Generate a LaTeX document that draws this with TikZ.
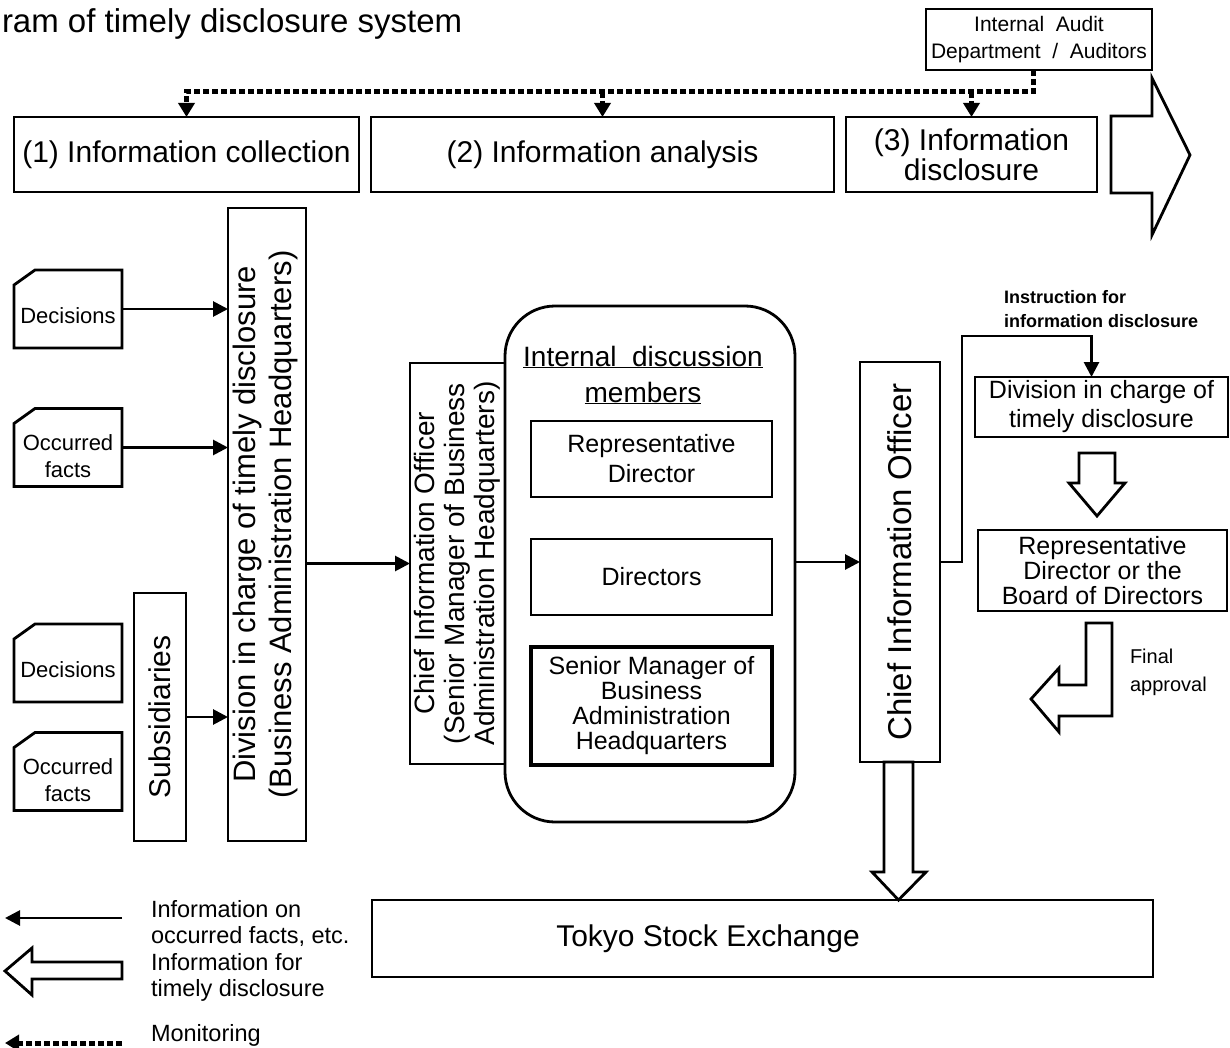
\documentclass[tikz,border=0pt]{standalone}
\usepackage{fontspec}
\setmainfont{Liberation Sans}
\usetikzlibrary{arrows.meta,calc}
\newcommand{\fsz}[2]{\fontsize{#1pt}{#2pt}\selectfont}

\begin{document}
\begin{tikzpicture}[x=1pt,y=-1pt,
  every node/.style={inner sep=0pt, outer sep=0pt},
  box/.style={draw, line width=2.8pt},
  card/.style={minimum width=108pt, minimum height=78pt},
  cardtxt/.style={font=\fsz{22}{27}, align=center},
  arr/.style={line width=2.8pt, -{Triangle[length=15pt,width=15pt]}},
  mon/.style={line width=5pt, dash pattern=on 6pt off 3pt},
  monarr/.style={mon, -{Triangle[length=14pt,width=16pt]}},
  hollow/.style={draw, line width=2.8pt, fill=white, line join=miter},
  legtxt/.style={font=\fsz{23.5}{26}, align=left, anchor=west}
]
\useasboundingbox[fill=white] (0,0) rectangle (1230,1048);

% title
\node[anchor=base west, font=\fsz{33}{36}] (title) at (2,33) {ram of timely disclosure system};

% audit box and phase headers
\node[box, minimum width=226pt, minimum height=61pt, align=center, font=\fsz{21}{27}] (audit) at (1039,39.5)
  {Internal~~Audit\\Department~~/~~Auditors};
\node[box, minimum width=345pt, minimum height=75pt, font=\fsz{30}{30}] (p1) at (186.5,154.5) {(1) Information collection};
\node[box, minimum width=463pt, minimum height=75pt, font=\fsz{30}{30}] (p2) at (602.5,154.5) {(2) Information analysis};
\node[box, minimum width=251pt, minimum height=75pt, font=\fsz{30}{30}, align=center] (p3) at (971.5,154.5) {(3) Information\\disclosure};

% process arrow
\draw[hollow] (1111,116) -- (1152,116) -- (1152,78) -- (1190,155) -- (1152,235) -- (1152,193) -- (1111,193) -- cycle;

% monitoring lines
\coordinate (rail) at (0,92);
\draw[monarr] ([xshift=-6pt]audit.south) |- (rail -| p1.north) -- (p1.north);
\draw[monarr] (rail -| p2.north) -- (p2.north);
\draw[monarr] (rail -| p3.north) -- (p3.north);

% source documents
\node[card] (dec1) at (68,309) {};
\node[card] (occ1) at (68,447.5) {};
\node[card] (dec2) at (68,663) {};
\node[card] (occ2) at (68,771.5) {};
\foreach \n in {dec1,occ1,dec2,occ2}
  \draw[line width=2.8pt, line join=miter] (\n.south west) -- (\n.south east) -- (\n.north east)
    -- ([xshift=21pt]\n.north west) -- ([yshift=-15pt]\n.north west) -- cycle;
\node[cardtxt] at ([yshift=-7pt]dec1.center) {Decisions};
\node[cardtxt] at ([yshift=-9pt]occ1.center) {Occurred\\facts};
\node[cardtxt] at ([yshift=-7pt]dec2.center) {Decisions};
\node[cardtxt] at ([yshift=-9pt]occ2.center) {Occurred\\facts};

% subsidiaries and division in charge
\node[box, minimum width=52pt, minimum height=248pt] (sub) at (160,717) {};
\node[rotate=90, font=\fsz{30}{30}] at (sub) {Subsidiaries};
\node[box, minimum width=78pt, minimum height=633pt] (div) at (267,524.5) {};
\node[rotate=90, align=center, font=\fsz{31}{36}] at ([xshift=-2pt]div.center) {Division in charge of timely disclosure\\(Business Administration Headquarters)};

\draw[arr] (dec1.east) -- (dec1.east -| div.west);
\draw[arr] (occ1.east) -- (occ1.east -| div.west);
\draw[arr] (sub.east) -- (sub.east -| div.west);

% chief information officer (left) and discussion members
\node[box, minimum width=95pt, minimum height=401pt] (ciol) at (457.5,563.5) {};
\node[rotate=90, align=center, font=\fsz{28}{30}] at (ciol) {Chief Information Officer\\(Senior Manager of Business\\Administration Headquarters)};
\node[box, rounded corners=50pt, minimum width=290pt, minimum height=516pt] (idm) at (650,564) {};
\node[align=center, font=\fsz{28}{36}] (idmhead) at (643,375) {\underline{Internal~~discussion}\\\underline{members}};
\node[box, minimum width=241pt, minimum height=76pt, align=center, font=\fsz{25}{30}] (rd) at (651.5,459) {Representative\\Director};
\node[box, minimum width=241pt, minimum height=76pt, font=\fsz{25}{30}] (dirs) at (651.5,577) {Directors};
\node[box, line width=3.4pt, minimum width=241pt, minimum height=118pt, align=center, font=\fsz{25}{25}] (sm) at (651.5,706) {Senior Manager of\\Business\\Administration\\Headquarters};

\draw[arr] (div.east |- ciol.west) -- (ciol.west);

% chief information officer (right)
\node[box, minimum width=80pt, minimum height=400pt] (cior) at (900,562) {};
\node[rotate=90, font=\fsz{33}{33}] at (cior) {Chief Information Officer};
\draw[arr] (idm.east |- cior.west) -- (cior.west);

% disclosure side
\node[box, minimum width=253pt, minimum height=60pt, align=center, font=\fsz{25}{29}] (divr) at (1101.5,407) {Division in charge of\\timely disclosure};
\node[box, minimum width=249pt, minimum height=81pt, align=center, font=\fsz{25}{25}] (board) at (1102.5,570.5) {Representative\\Director or the\\Board of Directors};
\coordinate (instr) at (1091.5,336);
\draw[arr] (cior.east) -- ++(22,0) |- (instr) -- (instr |- divr.north);
\node[anchor=west, align=left, font=\bfseries\fsz{18}{24}] (instrtxt) at (1004,309) {Instruction for\\information disclosure};

\draw[hollow] (1079,453) -- (1115,453) -- (1115,483) -- (1125,483) -- (1097,516) -- (1069,483) -- (1079,483) -- cycle;
\draw[hollow] (1086,623) -- (1112,623) -- (1112,716) -- (1059,716) -- (1059,732) -- (1031,699)
  -- (1059,668) -- (1059,685) -- (1086,685) -- cycle;
\node[anchor=west, align=left, font=\fsz{20}{28}] (finaltxt) at (1130,672) {Final\\approval};

% stock exchange
\node[box, minimum width=781pt, minimum height=77pt] (tse) at (762.5,938.5) {};
\node[font=\fsz{30}{30}] at (708,939) {Tokyo Stock Exchange};
\draw[hollow] (884,762) -- (884,872) -- (872,872) -- (898.5,900) -- (926,872) -- (913,872) -- (913,762) -- cycle;

% legend
\coordinate (l1a) at (122,918);
\coordinate (l1b) at (5,918);
\draw[arr] (l1a) -- (l1b);
\draw[hollow] (122,962) -- (32,962) -- (32,948) -- (5,971) -- (32,995) -- (32,979) -- (122,979) -- cycle;
\coordinate (l3a) at (122,1043);
\coordinate (l3b) at (5,1043);
\draw[monarr] (l3a) -- (l3b);
\node[legtxt] at (151,923) {Information on\\occurred facts, etc.};
\node[legtxt] at (151,977) {Information for\\timely disclosure};
\node[legtxt] at (151,1035) {Monitoring};
\end{tikzpicture}
\end{document}
